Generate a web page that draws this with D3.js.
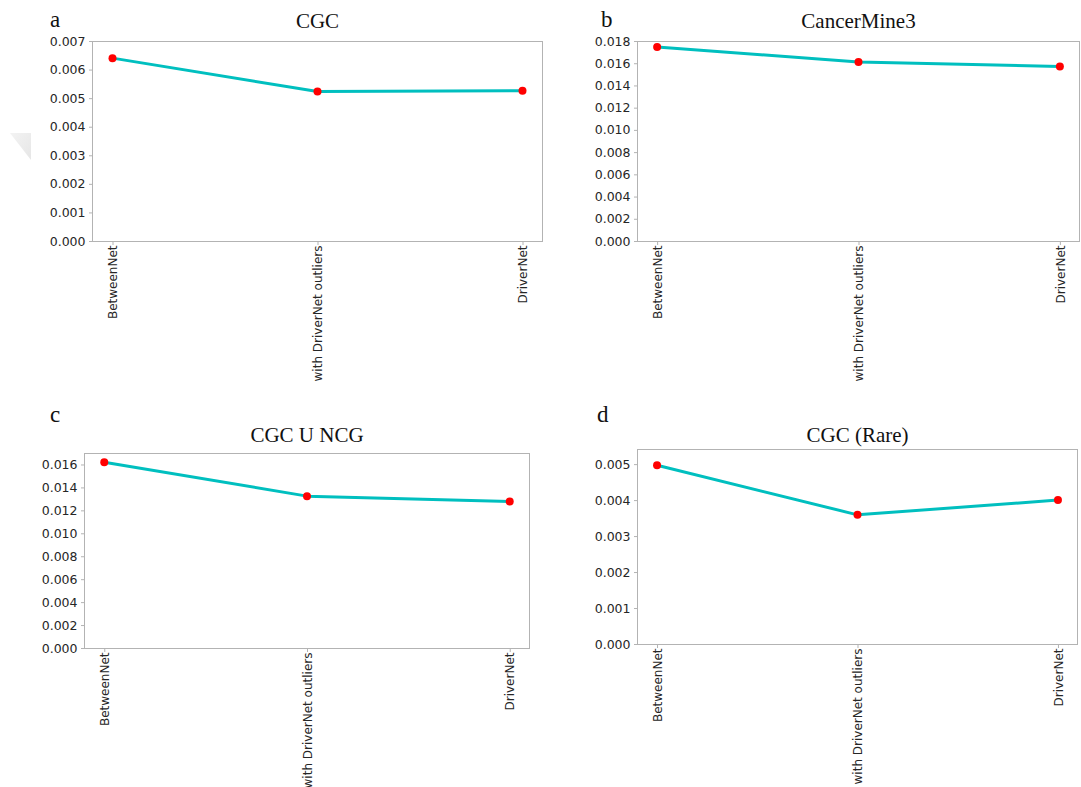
<!DOCTYPE html>
<html>
<head>
<meta charset="utf-8">
<script src="https://cdn.jsdelivr.net/npm/d3@7"></script>
<style>
  html, body { margin: 0; padding: 0; background: #fff; }
  svg { display: block; }
</style>
</head>
<body>
<svg id="chart" width="1081" height="787"></svg>
<script>
// Methods compared along the x axis
const categories = ["BetweenNet", "with DriverNet outliers", "DriverNet"];

// Scores per reference gene set
const cgcValues = [0.0064, 0.00523, 0.00526];
const cancerMine3Values = [0.01746, 0.0161, 0.01571];
const cgcNcgValues = [0.0162, 0.01324, 0.01278];
const cgcRareValues = [0.00497, 0.00359, 0.0040];

// Y tick values per panel
const ticksA = [0, 0.001, 0.002, 0.003, 0.004, 0.005, 0.006, 0.007];
const ticksB = [0, 0.002, 0.004, 0.006, 0.008, 0.010, 0.012, 0.014, 0.016, 0.018];
const ticksC = [0, 0.002, 0.004, 0.006, 0.008, 0.010, 0.012, 0.014, 0.016];
const ticksD = [0, 0.001, 0.002, 0.003, 0.004, 0.005];

// Panel titles and letters
const titles = ["CGC", "CancerMine3", "CGC U NCG", "CGC (Rare)"];
const letters = ["a", "b", "c", "d"];
const yMax = [0.007, 0.018, 0.0170, 0.00542];

const panels = [
  { values: cgcValues, ticks: ticksA, box: [92, 543, 41, 241], titleY: 28, letterXY: [50, 27] },
  { values: cancerMine3Values, ticks: ticksB, box: [637, 1080, 41, 241], titleY: 28, letterXY: [601, 27] },
  { values: cgcNcgValues, ticks: ticksC, box: [84, 530, 453, 648], titleY: 442, letterXY: [50, 422] },
  { values: cgcRareValues, ticks: ticksD, box: [637, 1078, 449, 644], titleY: 442, letterXY: [597, 422] }
];

const svg = d3.select("#chart");

// faint grey shape at the left margin
const grad = svg.append("defs").append("linearGradient")
  .attr("id", "fade").attr("x1", "0").attr("y1", "0").attr("x2", "1").attr("y2", "1");
grad.append("stop").attr("offset", "0").attr("stop-color", "#f3f3f3");
grad.append("stop").attr("offset", "1").attr("stop-color", "#e6e6e6");
svg.append("path")
  .attr("d", "M10,133 L31,133 L31,160 Z")
  .attr("fill", "url(#fade)");

const frameColor = "#b3b3b3";
const textColor = "#262626";
const lineColor = "#00bfbf";

panels.forEach((p, i) => {
  const [left, right, top, bottom] = p.box;
  const g = svg.append("g");

  const x = d3.scaleLinear().domain([-0.1, 2.1]).range([left, right]);
  const y = d3.scaleLinear().domain([0, yMax[i]]).range([bottom, top]);

  // frame
  g.append("rect")
    .attr("x", left + 0.5).attr("y", top + 0.5)
    .attr("width", right - left - 1).attr("height", bottom - top)
    .attr("fill", "none").attr("stroke", frameColor).attr("stroke-width", 1);

  // y axis
  const yAxis = d3.axisLeft(y).tickValues(p.ticks)
    .tickFormat(d3.format(".3f")).tickSize(3.5).tickPadding(3.5);
  const ya = g.append("g").attr("transform", `translate(${left + 0.5},0)`).call(yAxis);
  ya.select(".domain").remove();
  ya.selectAll("line").attr("stroke", frameColor);
  ya.selectAll("text").attr("fill", textColor)
    .style("font-family", "'DejaVu Sans', sans-serif").style("font-size", "12.5px");

  // x axis with rotated category labels
  const xAxis = d3.axisBottom(x).tickValues([0, 1, 2])
    .tickFormat(d => categories[d]).tickSize(3.5).tickPadding(3.5);
  const xa = g.append("g").attr("transform", `translate(0,${bottom + 0.5})`).call(xAxis);
  xa.select(".domain").remove();
  xa.selectAll("line").attr("stroke", frameColor);
  xa.selectAll("text")
    .attr("fill", textColor)
    .attr("transform", "rotate(-90)")
    .attr("text-anchor", "end")
    .attr("x", -4).attr("y", 0).attr("dy", "0.35em")
    .style("font-family", "'DejaVu Sans', sans-serif").style("font-size", "12px");

  // line
  const line = d3.line().x((d, k) => x(k)).y(d => y(d));
  g.append("path").datum(p.values)
    .attr("d", line).attr("fill", "none")
    .attr("stroke", lineColor).attr("stroke-width", 3)
    .attr("stroke-linejoin", "round").attr("stroke-linecap", "round");

  // markers
  g.selectAll("circle.pt").data(p.values).enter().append("circle")
    .attr("class", "pt")
    .attr("cx", (d, k) => x(k)).attr("cy", d => y(d))
    .attr("r", 4).attr("fill", "#ff0000");

  // title
  g.append("text")
    .attr("x", (left + right) / 2).attr("y", p.titleY)
    .attr("text-anchor", "middle")
    .style("font-family", "'Liberation Serif', 'DejaVu Serif', serif")
    .style("font-size", "21px").attr("fill", "#111")
    .text(titles[i]);

  // panel letter
  g.append("text")
    .attr("x", p.letterXY[0]).attr("y", p.letterXY[1])
    .style("font-family", "'Liberation Serif', 'DejaVu Serif', serif")
    .style("font-size", "23px").attr("fill", "#111")
    .text(letters[i]);
});
</script>
</body>
</html>
